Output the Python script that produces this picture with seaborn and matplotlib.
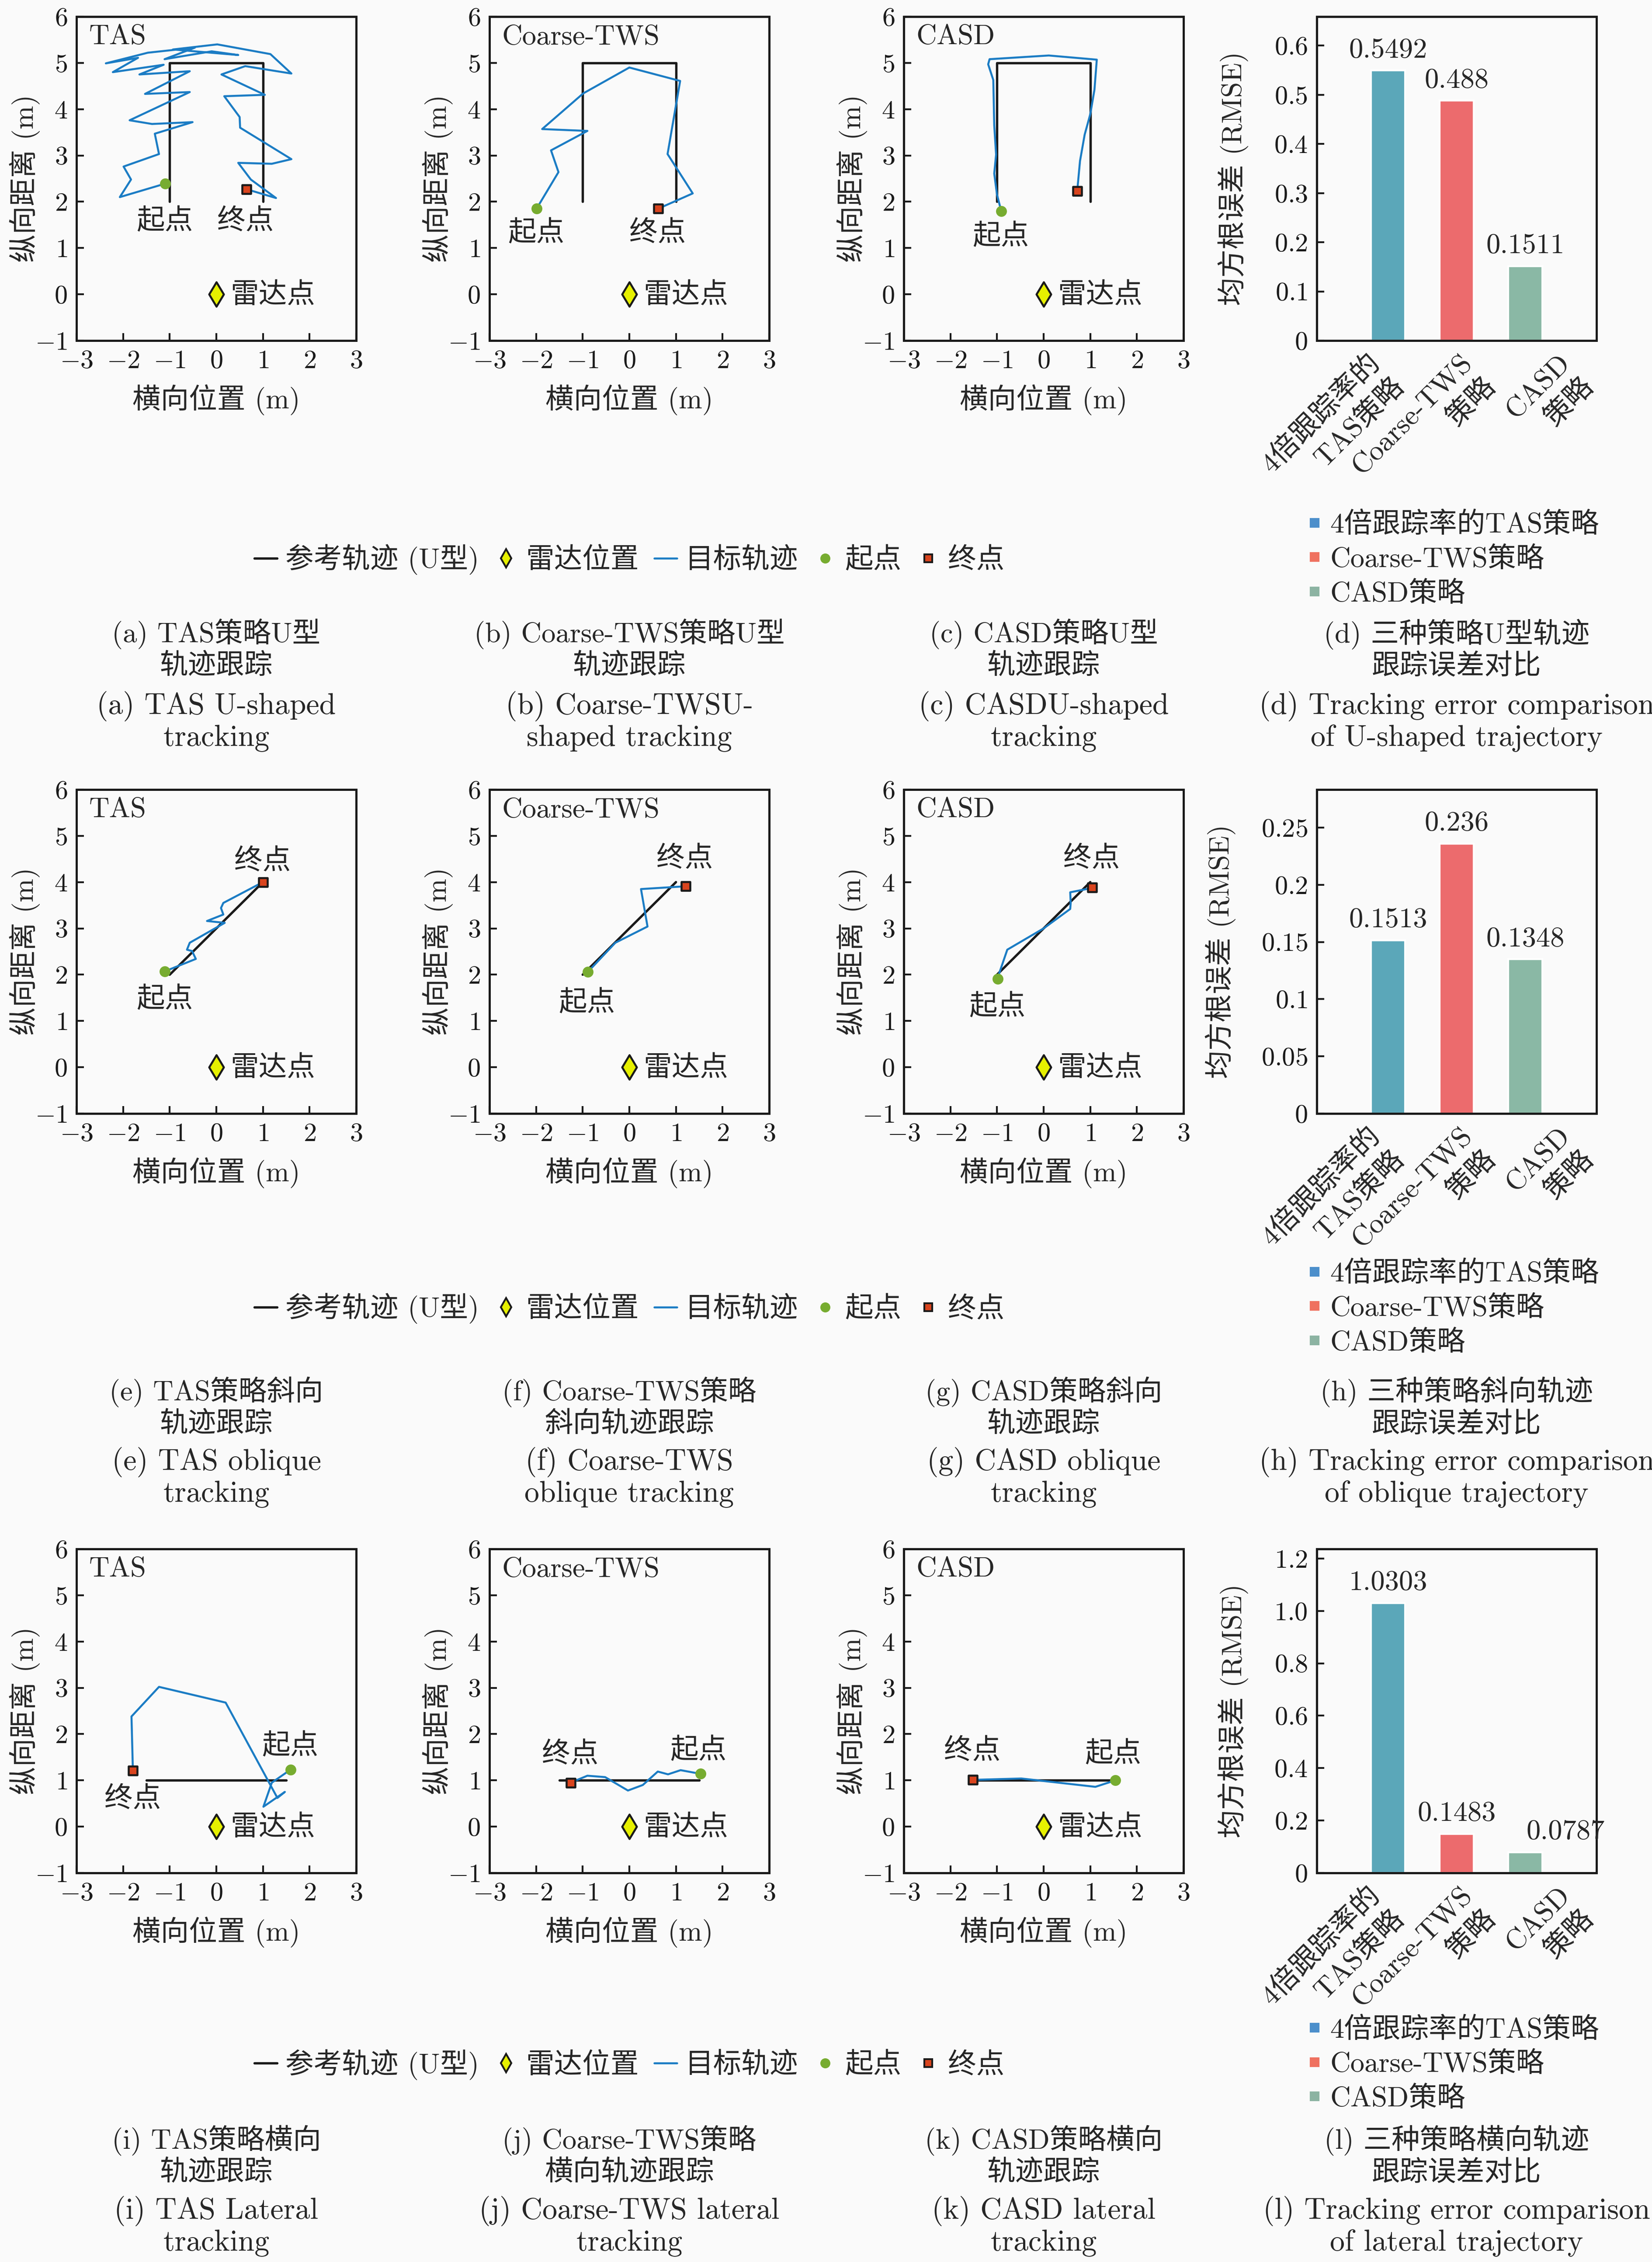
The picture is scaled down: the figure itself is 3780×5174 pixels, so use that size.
import numpy as np
import pandas as pd
import seaborn as sns
import matplotlib.pyplot as plt
from matplotlib.lines import Line2D

# ---------------- data ----------------
# reference paths
ref_u_x = [-1, -1, 1, 1]
ref_u_y = [2, 5, 5, 2]
ref_obl_x = [-1, 1]
ref_obl_y = [2, 4]
ref_lat_x = [-1.5, 1.5]
ref_lat_y = [1, 1]

# tracked target paths (first point = start, last point = end)
tas_u_x = [-1.10, -2.07, -1.83, -1.99, -1.23, -1.32, -0.51, -1.38, -1.86, -0.57, -1.53, -0.57,
           -1.65, -1.13, -2.22, -1.68, -2.37, -1.47, -0.46, -1.11, -0.10, 0.47, -0.93, 0.02,
           1.16, 1.61, 0.62, 0.11, 1.04, 0.17, 0.50, 0.51, 1.61, 1.19, 0.47, 0.74, 1.28, 0.65]
tas_u_y = [2.39, 2.10, 2.48, 2.76, 3.03, 3.47, 3.72, 3.68, 3.76, 4.37, 4.33, 4.82,
           4.75, 4.96, 4.80, 5.11, 4.99, 5.22, 5.33, 5.08, 5.25, 5.17, 5.29, 5.40,
           5.19, 4.77, 4.93, 4.75, 4.31, 4.28, 3.83, 3.60, 2.92, 2.82, 2.84, 2.48, 2.08, 2.27]
tws_u_x = [-1.99, -1.52, -1.68, -0.90, -1.87, -0.99, 0.00, 1.09, 0.82, 1.36, 0.62]
tws_u_y = [1.85, 2.64, 3.11, 3.53, 3.57, 4.34, 4.90, 4.61, 3.03, 2.18, 1.85]
casd_u_x = [-0.91, -1.00, -1.06, -1.02, -1.06, -1.08, -1.19, -1.16, 0.11, 1.14, 1.09, 1.00, 0.88, 0.78, 0.72]
casd_u_y = [1.80, 2.15, 2.61, 3.02, 3.65, 4.63, 4.97, 5.08, 5.16, 5.07, 4.42, 3.89, 3.45, 2.88, 2.23]

tas_obl_x = [-1.11, -0.44, -0.52, -0.63, -0.57, 0.18, -0.20, 0.15, 0.10, 0.15, 1.00]
tas_obl_y = [2.07, 2.34, 2.51, 2.54, 2.69, 3.12, 3.16, 3.30, 3.44, 3.55, 4.00]
tws_obl_x = [-0.89, -0.30, 0.39, 0.25, 1.21]
tws_obl_y = [2.06, 2.69, 3.04, 3.85, 3.91]
casd_obl_x = [-0.98, -0.95, -0.78, 0.00, 0.57, 0.58, 0.57, 0.92, 1.04]
casd_obl_y = [1.91, 2.04, 2.54, 3.00, 3.42, 3.55, 3.78, 3.85, 3.88]

tas_lat_x = [1.59, 1.19, 1.01, 1.47, 1.31, 1.10, 0.20, -1.23, -1.82, -1.79]
tas_lat_y = [1.23, 0.95, 0.43, 0.75, 0.62, 1.01, 2.68, 3.02, 2.38, 1.21]
tws_lat_x = [1.53, 1.10, 0.83, 0.61, 0.29, -0.03, -0.52, -0.90, -1.14, -1.26]
tws_lat_y = [1.14, 1.22, 1.13, 1.19, 0.90, 0.78, 1.07, 1.10, 1.00, 0.95]
casd_lat_x = [1.54, 1.11, -0.48, -1.52]
casd_lat_y = [1.00, 0.86, 1.04, 1.01]

radar_x = [0]
radar_y = [0]

strategies = ['4倍跟踪率的\nTAS策略', 'Coarse-TWS\n策略', 'CASD\n策略']
strategy_names = ['4倍跟踪率的TAS策略', 'Coarse-TWS策略', 'CASD策略']
rmse_u = [0.5492, 0.488, 0.1511]
rmse_obl = [0.1513, 0.236, 0.1348]
rmse_lat = [1.0303, 0.1483, 0.0787]

rmse_ticks_u = ['0', '0.1', '0.2', '0.3', '0.4', '0.5', '0.6']
rmse_ticks_obl = ['0', '0.05', '0.1', '0.15', '0.2', '0.25']
rmse_ticks_lat = ['0', '0.2', '0.4', '0.6', '0.8', '1.0', '1.2']

traj_xticks = ['-3', '-2', '-1', '0', '1', '2', '3']
traj_yticks = ['-1', '0', '1', '2', '3', '4', '5', '6']

legend_labels = ['参考轨迹 (U型)', '雷达位置', '目标轨迹', '起点', '终点']

captions_cn = [
    ['(a) TAS策略U型\n轨迹跟踪', '(b) Coarse-TWS策略U型\n轨迹跟踪',
     '(c) CASD策略U型\n轨迹跟踪', '(d) 三种策略U型轨迹\n跟踪误差对比'],
    ['(e) TAS策略斜向\n轨迹跟踪', '(f) Coarse-TWS策略\n斜向轨迹跟踪',
     '(g) CASD策略斜向\n轨迹跟踪', '(h) 三种策略斜向轨迹\n跟踪误差对比'],
    ['(i) TAS策略横向\n轨迹跟踪', '(j) Coarse-TWS策略\n横向轨迹跟踪',
     '(k) CASD策略横向\n轨迹跟踪', '(l) 三种策略横向轨迹\n跟踪误差对比'],
]
captions_en = [
    ['(a) TAS U-shaped\ntracking', '(b) Coarse-TWSU-\nshaped tracking',
     '(c) CASDU-shaped\ntracking', '(d) Tracking error comparison\nof U-shaped trajectory'],
    ['(e) TAS oblique\ntracking', '(f) Coarse-TWS\noblique tracking',
     '(g) CASD oblique\ntracking', '(h) Tracking error comparison\nof oblique trajectory'],
    ['(i) TAS Lateral\ntracking', '(j) Coarse-TWS lateral\ntracking',
     '(k) CASD lateral\ntracking', '(l) Tracking error comparison\nof lateral trajectory'],
]

# ---------------- style ----------------
sns.set_theme(style='ticks')
plt.rcParams['font.family'] = ['cmr10', 'Noto Sans CJK SC']
plt.rcParams['mathtext.fontset'] = 'cm'
plt.rcParams['axes.formatter.use_mathtext'] = True
plt.rcParams['axes.unicode_minus'] = True

BG = '#FAFAFA'
BLUE = '#1B7CC4'
GREEN = '#77AC30'
RED = '#D9441E'
YELLOW = '#E6F000'
BAR_COLS = ['#5BA7B9', '#EC6B6D', '#8AB8A5']
LEG_COLS = ['#4C8FCB', '#EF7160', '#8CB3A2']
FS_TICK = 14.5
FS_LAB = 15.5
FS_TXT = 15.5
FS_EN = 16.3

W, H = 3780, 5174
fig = plt.figure(figsize=(W / 300, H / 300), dpi=300, facecolor=BG)

col_left = [175, 1120, 2068, 3013]
row_top = [38, 1806, 3543]
AX_W, AX_H = 640, 741


def rect(left, top):
    return [left / W, 1 - (top + AX_H) / H, AX_W / W, AX_H / H]


def frame(ax):
    ax.set_facecolor(BG)
    for s in ax.spines.values():
        s.set_visible(True)
        s.set_color('k')
        s.set_linewidth(1.2)
    ax.tick_params(direction='in', length=4, width=1, pad=5, top=False, right=False,
                   labelsize=FS_TICK, colors='k')


def traj_panel(ax, ref_x, ref_y, px, py, name, start_lbl, end_lbl):
    frame(ax)
    sns.lineplot(x=ref_x, y=ref_y, sort=False, estimator=None, color='k', lw=1.3, ax=ax)
    sns.lineplot(x=px, y=py, sort=False, estimator=None, color=BLUE, lw=1.1, ax=ax)
    sns.scatterplot(x=radar_x, y=radar_y, marker='d', s=90, color=YELLOW, edgecolor='k',
                    linewidth=1.1, zorder=5, ax=ax)
    sns.scatterplot(x=px[:1], y=py[:1], marker='o', s=30, color=GREEN, edgecolor=GREEN,
                    linewidth=0.5, zorder=5, ax=ax)
    sns.scatterplot(x=px[-1:], y=py[-1:], marker='s', s=24, color=RED, edgecolor='k',
                    linewidth=1.1, zorder=5, ax=ax)
    ax.text(radar_x[0] + 0.3, radar_y[0] - 0.03, '雷达点', ha='left', va='center', fontsize=FS_TXT)
    if start_lbl is not None:
        ax.text(start_lbl[0], start_lbl[1], '起点', ha='center', va='center', fontsize=FS_TXT)
    if end_lbl is not None:
        ax.text(end_lbl[0], end_lbl[1], '终点', ha='center', va='center', fontsize=FS_TXT)
    ax.text(0.045, 0.975, name, transform=ax.transAxes, ha='left', va='top', fontsize=FS_LAB)
    ax.set_xlim(-3, 3)
    ax.set_ylim(-1, 6)
    ax.set_xticks(range(-3, 4), ['$' + t + '$' for t in traj_xticks])
    ax.set_yticks(range(-1, 7), ['$' + t + '$' for t in traj_yticks])
    ax.set_xlabel('横向位置 (m)', fontsize=FS_LAB, labelpad=6)
    ax.set_ylabel('纵向距离 (m)', fontsize=FS_LAB, labelpad=-3)


# where the rotated category labels sit (offset from the tick, data units)
cat_label_shift = [0.0, 0.34, 0.77]


def bar_panel(ax, vals, tick_labels, value_shift):
    frame(ax)
    df = pd.DataFrame({'s': strategies, 'v': vals})
    sns.barplot(data=df, x='s', y='v', hue='s', palette=BAR_COLS, width=0.5, saturation=1,
                legend=False, ax=ax)
    ax.set_xlim(-1.04, 3.04)
    ax.set_ylim(0, 1.2 * max(vals))
    ticks = [float(t) for t in tick_labels]
    ax.set_yticks(ticks, ['$' + t + '$' for t in tick_labels])
    ax.set_xticks([0, 1, 2], ['', '', ''])
    for i, v in enumerate(vals):
        ax.annotate(f'{v:g}', (i + value_shift[i], v), xytext=(0, 4), textcoords='offset points',
                    ha='center', va='bottom', fontsize=FS_TXT)
        ax.annotate(strategies[i], xy=(i + cat_label_shift[i], 0), xycoords=('data', 'axes fraction'),
                    xytext=(0, -16.5), textcoords='offset points', rotation=45,
                    rotation_mode='anchor', ha='right', va='center', fontsize=FS_TXT,
                    linespacing=1.35)
    ax.set_xlabel('')
    ax.set_ylabel('均方根误差 (RMSE)', fontsize=FS_LAB, labelpad=14)


rows = [
    [(ref_u_x, ref_u_y, tas_u_x, tas_u_y, 'TAS', (-1.11, 1.57), (0.62, 1.57)),
     (ref_u_x, ref_u_y, tws_u_x, tws_u_y, 'Coarse-TWS', (-2.0, 1.31), (0.61, 1.31)),
     (ref_u_x, ref_u_y, casd_u_x, casd_u_y, 'CASD', (-0.92, 1.24), None)],
    [(ref_obl_x, ref_obl_y, tas_obl_x, tas_obl_y, 'TAS', (-1.11, 1.46), (0.99, 4.44)),
     (ref_obl_x, ref_obl_y, tws_obl_x, tws_obl_y, 'Coarse-TWS', (-0.91, 1.38), (1.19, 4.50)),
     (ref_obl_x, ref_obl_y, casd_obl_x, casd_obl_y, 'CASD', (-0.99, 1.30), (1.03, 4.50))],
    [(ref_lat_x, ref_lat_y, tas_lat_x, tas_lat_y, 'TAS', (1.58, 1.73), (-1.79, 0.59)),
     (ref_lat_x, ref_lat_y, tws_lat_x, tws_lat_y, 'Coarse-TWS', (1.48, 1.64), (-1.27, 1.55)),
     (ref_lat_x, ref_lat_y, casd_lat_x, casd_lat_y, 'CASD', (1.49, 1.56), (-1.53, 1.63))],
]
bar_vals = [rmse_u, rmse_obl, rmse_lat]
bar_ticks = [rmse_ticks_u, rmse_ticks_obl, rmse_ticks_lat]
value_shifts = [[0, 0, 0], [0, 0, 0], [0, 0, 0.59]]

legend_y = [0.7526, 0.4215, 0.0873]
caption_cn_y = [0.713, 0.378, 0.0471]
caption_en_y = [0.681, 0.3469, 0.0158]

traj_handles = [
    Line2D([], [], color='k', lw=1.3),
    Line2D([], [], ls='none', marker='d', ms=7, mfc=YELLOW, mec='k', mew=1),
    Line2D([], [], color=BLUE, lw=1.1),
    Line2D([], [], ls='none', marker='o', ms=4.5, mfc=GREEN, mec=GREEN),
    Line2D([], [], ls='none', marker='s', ms=4.5, mfc=RED, mec='k', mew=1),
]
bar_handles = [Line2D([], [], ls='none', marker='s', ms=4.5, mfc=c, mec=c) for c in LEG_COLS]

for r in range(3):
    for c in range(3):
        ax = fig.add_axes(rect(col_left[c], row_top[r]))
        traj_panel(ax, *rows[r][c])
    axb = fig.add_axes(rect(col_left[3], row_top[r]))
    bar_panel(axb, bar_vals[r], bar_ticks[r], value_shifts[r])

    fig.legend(traj_handles, legend_labels, loc='center', bbox_to_anchor=(0.381, legend_y[r]),
               ncol=5, frameon=False, handlelength=0.8, handletextpad=0.3, columnspacing=0.55,
               fontsize=FS_TXT)
    fig.legend(bar_handles, strategy_names, loc='center left', bbox_to_anchor=(0.776, legend_y[r]),
               frameon=False, handlelength=0.5, handletextpad=0.3, labelspacing=0.3,
               fontsize=FS_TXT)

    for c in range(4):
        cx = (col_left[c] + AX_W / 2) / W
        fig.text(cx, caption_cn_y[r], captions_cn[r][c], ha='center', va='center',
                 fontsize=FS_TXT, linespacing=1.2)
        fig.text(cx, caption_en_y[r], captions_en[r][c], ha='center', va='center',
                 fontsize=FS_EN, linespacing=1.15)

fig.savefig('out.png', dpi=300, facecolor=BG)
